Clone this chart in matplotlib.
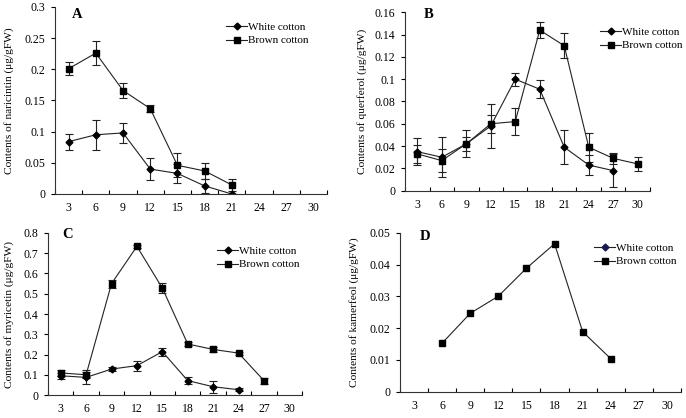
import numpy as np
import matplotlib
matplotlib.use("Agg")
import matplotlib.pyplot as plt
from matplotlib.lines import Line2D

plt.rcParams['font.family'] = ['Liberation Serif', 'DejaVu Serif']

days = ["3", "6", "9", "12", "15", "18", "21", "24", "27", "30"]
nan = np.nan

# A - naricintin
a_white = [0.084, 0.095, 0.098, 0.040, 0.033, 0.013, 0.000, nan, nan, nan]
a_white_err = [0.013, 0.024, 0.016, 0.017, 0.015, 0.011, 0.0, nan, nan, nan]
a_brown = [0.201, 0.226, 0.166, 0.137, 0.046, 0.037, 0.0145, nan, nan, nan]
a_brown_err = [0.010, 0.019, 0.012, 0.005, 0.019, 0.0135, 0.010, nan, nan, nan]

# B - querferol
b_white = [0.035, 0.030, 0.042, 0.058, 0.100, 0.091, 0.039, 0.023, 0.018, nan]
b_white_err = [0.012, 0.018, 0.012, 0.020, 0.006, 0.008, 0.015, 0.009, 0.015, nan]
b_brown = [0.033, 0.027, 0.042, 0.060, 0.062, 0.144, 0.130, 0.039, 0.029, 0.024]
b_brown_err = [0.008, 0.010, 0.006, 0.008, 0.012, 0.007, 0.011, 0.013, 0.005, 0.006]

# C - myricetin
c_white = [0.095, 0.087, 0.128, 0.145, 0.214, 0.071, 0.041, 0.026, nan, nan]
c_white_err = [0.015, 0.035, 0.010, 0.025, 0.020, 0.017, 0.030, 0.007, nan, nan]
c_brown = [0.109, 0.100, 0.550, 0.734, 0.528, 0.252, 0.225, 0.207, 0.071, nan]
c_brown_err = [0.015, 0.015, 0.020, 0.007, 0.025, 0.010, 0.012, 0.007, 0.015, nan]

# D - kamerfeol (brown only)
d_brown = [nan, 0.0153, 0.0247, 0.0301, 0.0389, 0.0466, 0.0189, 0.0104, nan, nan]

panels = [
    dict(rect=[0.0802, 0.5359, 0.3965, 0.4474], ylim=0.3, step=0.05,
         ylabels=["0", "0.05", "0.1", "0.15", "0.2", "0.25", "0.3"],
         ylabel="Contents of naricintin (\u03bcg/gFW)", letter="A",
         white=a_white, werr=a_white_err, brown=a_brown, berr=a_brown_err,
         letter_xy=(77, 14), leg_xy=(226, 22), ylab_x=9),
    dict(rect=[0.5904, 0.5438, 0.3571, 0.4268], ylim=0.16, step=0.02,
         ylabels=["0", "0.02", "0.04", "0.06", "0.08", "0.1", "0.12", "0.14", "0.16"],
         ylabel="Contents of querferol (\u03bcg/gFW)", letter="B",
         white=b_white, werr=b_white_err, brown=b_brown, berr=b_brown_err,
         letter_xy=(429, 15), leg_xy=(600, 27), ylab_x=362),
    dict(rect=[0.0700, 0.0550, 0.3703, 0.3876], ylim=0.8, step=0.1,
         ylabels=["0", "0.1", "0.2", "0.3", "0.4", "0.5", "0.6", "0.7", "0.8"],
         ylabel="Contents of myricetin (\u03bcg/gFW)", letter="C",
         white=c_white, werr=c_white_err, brown=c_brown, berr=c_brown_err,
         letter_xy=(68, 234), leg_xy=(217, 246), ylab_x=9),
    dict(rect=[0.5831, 0.0629, 0.4096, 0.3797], ylim=0.05, step=0.01,
         ylabels=["0", "0.01", "0.02", "0.03", "0.04", "0.05"],
         ylabel="Contents of kamerfeol (\u03bcg/gFW)", letter="D",
         white=None, werr=None, brown=d_brown, berr=None,
         letter_xy=(425, 237), leg_xy=(594, 243), ylab_x=354),
]

W, H = 686, 418
fig = plt.figure(figsize=(W / 100, H / 100), dpi=100)
x = np.arange(len(days))

for p in panels:
    ax = fig.add_axes(p["rect"])
    for s in ["top", "right"]:
        ax.spines[s].set_visible(False)
    for s in ["left", "bottom"]:
        ax.spines[s].set_linewidth(0.8)
        ax.spines[s].set_color("#333333")

    white_mc = "black"
    if p["white"] is not None:
        w = np.array(p["white"])
        ax.errorbar(x, w, yerr=p["werr"], color="#222222", lw=0.8, marker="D",
                    ms=3.5, mfc="black", mec="black", ecolor="#222222",
                    elinewidth=0.8, capsize=3, capthick=0.8)
    else:
        white_mc = "#1a1a4e"
    b = np.array(p["brown"])
    if p["berr"] is not None:
        ax.errorbar(x, b, yerr=p["berr"], color="#222222", lw=0.8, marker="s",
                    ms=4.6, mfc="black", mec="black", ecolor="#222222",
                    elinewidth=0.8, capsize=3, capthick=0.8)
    else:
        m = ~np.isnan(b)
        ax.plot(x[m], b[m], color="#222222", lw=0.8, marker="s", ms=4.6,
                mfc="black", mec="black")

    ax.set_xlim(-0.5, len(days) - 0.5)
    ax.set_xticks(np.arange(-0.5, len(days), 1.0))
    ax.set_xticklabels([])
    ax.set_xticks(x, minor=True)
    ax.set_xticklabels(days, minor=True)
    ax.tick_params(axis="x", which="major", direction="in", length=3, width=0.8)
    ax.tick_params(axis="x", which="minor", length=0, pad=6, labelsize=8.5)

    ax.set_ylim(0, p["ylim"])
    ax.set_yticks(np.arange(len(p["ylabels"])) * p["step"])
    ax.set_yticklabels(p["ylabels"])
    ax.tick_params(axis="y", direction="out", length=3, width=0.8, labelsize=8.5, pad=4)

    cy = p["rect"][1] + p["rect"][3] / 2
    fig.text(p["ylab_x"] / W, cy, p["ylabel"], fontsize=8.2, rotation=90,
             ha="center", va="center")

    lx, ly = p["letter_xy"]
    fig.text(lx / W, 1 - ly / H, p["letter"], fontsize=10.5, fontweight="bold",
             ha="center", va="center")

    handles = [
        Line2D([], [], color="#222222", lw=0.8, marker="D", ms=3.5,
               mfc=white_mc, mec=white_mc),
        Line2D([], [], color="#222222", lw=0.8, marker="s", ms=4.6,
               mfc="black", mec="black"),
    ]
    gx, gy = p["leg_xy"]
    ax.legend(handles, ["White cotton", "Brown cotton"], loc="upper left",
              bbox_to_anchor=(gx / W, 1 - gy / H),
              bbox_transform=fig.transFigure, frameon=False, fontsize=8,
              handlelength=1.9, handletextpad=0.1, labelspacing=0.35,
              borderpad=0, borderaxespad=0)

fig.savefig("out.png", dpi=100)
